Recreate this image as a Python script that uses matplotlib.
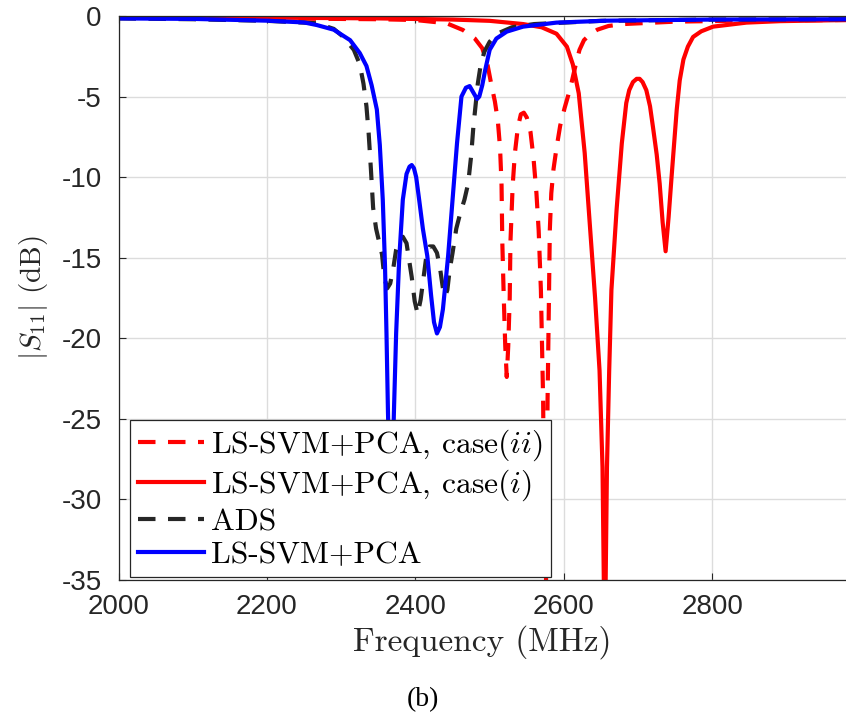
import matplotlib
matplotlib.use("Agg")
import matplotlib.pyplot as plt

# ---------------- data ----------------
freq_ii = [2000, 2200, 2350, 2400, 2442, 2464, 2480, 2490, 2497, 2502, 2507, 2511, 2514,
           2516, 2517, 2519, 2521, 2523, 2525, 2527, 2528, 2531, 2534, 2538, 2542, 2546,
           2550, 2555, 2559, 2563, 2566, 2569, 2572, 2575, 2578, 2580, 2581, 2583, 2586,
           2590, 2595, 2601, 2606, 2611, 2616, 2621, 2627, 2636, 2645, 2660, 2680, 2750,
           2850, 2980]
s11_ii = [-0.1, -0.15, -0.2, -0.25, -0.45, -0.87, -1.4, -2.0, -3.0, -4.2, -5.3, -6.5, -8.2,
          -10.5, -14.0, -17.5, -20.5, -22.4, -20.5, -17.5, -14.0, -10.5, -8.5, -6.9, -6.1, -6.0,
          -6.3, -7.2, -8.8, -11.0, -13.3, -17.0, -23.8, -40.0, -23.8, -17.0, -13.3, -11.0, -9.5,
          -8.2, -6.8, -5.7, -4.9, -4.0, -3.0, -2.1, -1.5, -1.1, -0.85, -0.62, -0.5, -0.35,
          -0.28, -0.25]

freq_i = [2000, 2200, 2350, 2450, 2500, 2545, 2570, 2590, 2604, 2612, 2620, 2628, 2635,
          2642, 2648, 2652, 2655, 2658, 2661, 2664, 2671, 2678, 2684, 2688, 2693, 2698,
          2702, 2706, 2711, 2716, 2720, 2725, 2729, 2733, 2737, 2741, 2745, 2749, 2752,
          2756, 2761, 2767, 2774, 2785, 2801, 2846, 2891, 2980]
s11_i = [-0.08, -0.1, -0.15, -0.22, -0.3, -0.5, -0.7, -1.1, -1.9, -3.0, -4.8, -8.5, -13.0,
         -17.5, -22.0, -28.0, -40.0, -28.0, -22.0, -17.0, -12.0, -7.9, -5.4, -4.6, -4.1, -3.9,
         -3.9, -4.1, -4.6, -5.6, -6.9, -8.6, -10.4, -12.8, -14.6, -12.5, -10.0, -7.6, -5.8,
         -4.0, -2.7, -1.9, -1.3, -0.95, -0.66, -0.41, -0.32, -0.25]

freq_ads = [2000, 2100, 2200, 2267, 2290, 2303, 2317, 2325, 2330, 2334, 2337, 2340, 2343,
            2347, 2351, 2355, 2358, 2362, 2366, 2370, 2374, 2379, 2383, 2388, 2392, 2395,
            2399, 2403, 2407, 2411, 2415, 2419, 2424, 2429, 2433, 2437, 2440, 2443, 2446,
            2450, 2455, 2460, 2466, 2471, 2475, 2478, 2484, 2488, 2493, 2500, 2510, 2530,
            2560, 2650, 2800, 2980]
s11_ads = [-0.15, -0.2, -0.3, -0.45, -0.8, -1.3, -2.1, -3.0, -4.2, -5.6, -7.3, -9.5, -11.9,
           -13.2, -14.0, -14.8, -16.2, -16.9, -16.6, -15.7, -14.5, -13.8, -13.7, -14.1, -15.3, -16.2,
           -17.7, -18.5, -17.6, -16.2, -14.8, -14.3, -14.3, -14.7, -15.6, -16.9, -17.4, -17.0, -15.8,
           -14.7, -13.2, -12.3, -11.4, -10.4, -8.7, -6.9, -4.2, -3.0, -2.2, -1.6, -1.1, -0.7,
           -0.5, -0.3, -0.22, -0.2]

freq_pca = [2000, 2100, 2200, 2250, 2267, 2290, 2312, 2325, 2334, 2341, 2348, 2352, 2356,
            2359, 2361, 2363, 2367, 2371, 2374, 2378, 2383, 2388, 2392, 2395, 2398, 2401,
            2405, 2410, 2416, 2421, 2425, 2429, 2433, 2437, 2440, 2444, 2450, 2456, 2462,
            2468, 2473, 2478, 2483, 2486, 2490, 2494, 2500, 2509, 2523, 2545, 2590, 2658,
            2800, 2980]
s11_pca = [-0.15, -0.18, -0.29, -0.4, -0.56, -0.85, -1.5, -2.3, -3.1, -4.3, -5.8, -8.0, -11.4,
           -15.5, -19.7, -24.6, -32.0, -24.6, -19.7, -15.2, -11.4, -9.8, -9.35, -9.25, -9.45, -10.0,
           -11.4, -13.2, -14.9, -17.3, -19.0, -19.7, -19.3, -18.2, -16.8, -14.9, -11.4, -7.9, -5.0,
           -4.45, -4.35, -4.75, -5.15, -5.0, -4.3, -3.35, -2.1, -1.4, -0.97, -0.66, -0.41, -0.29,
           -0.22, -0.2]

labels = [r"LS-SVM+PCA, case($ii$)", r"LS-SVM+PCA, case($i$)", "ADS", "LS-SVM+PCA"]
xticks = [2000, 2200, 2400, 2600, 2800]
yticks = [0, -5, -10, -15, -20, -25, -30, -35]

# ---------------- figure ----------------
plt.rcParams["mathtext.fontset"] = "cm"
plt.rcParams["axes.unicode_minus"] = False

fig = plt.figure(figsize=(8.46, 7.24), dpi=100)
ax = fig.add_axes([118.5 / 846, 144 / 724, 1 - 118.5 / 846, (580 - 16) / 724])

dash = (0, (4.2, 3.0))
lw = 3.0
ax.plot(freq_ii, s11_ii, color="#ff0000", lw=lw, ls=dash, label=labels[0])
ax.plot(freq_i, s11_i, color="#ff0000", lw=lw, ls="-", label=labels[1])
ax.plot(freq_ads, s11_ads, color="#262626", lw=lw, ls=dash, label=labels[2])
ax.plot(freq_pca, s11_pca, color="#0000ff", lw=lw, ls="-", label=labels[3])

ax.set_xlim(2000, 2980)
ax.set_ylim(-35, 0)
ax.set_xticks(xticks)
ax.set_yticks(yticks)
ax.set_xticklabels([str(v) for v in xticks])
ax.set_yticklabels([str(v) for v in yticks])
ax.grid(True, color="#dcdcdc", lw=1.0)
ax.set_axisbelow(True)
ax.tick_params(direction="in", length=5, width=0.8, color="#262626",
               labelsize=20, labelcolor="#262626", top=True)
ax.tick_params(axis="y", pad=12)
ax.tick_params(axis="x", pad=10)
for lab in ax.get_xticklabels() + ax.get_yticklabels():
    lab.set_fontfamily("Liberation Sans")
for side in ["left", "top", "bottom"]:
    ax.spines[side].set_color("#262626")
    ax.spines[side].set_linewidth(0.9)
ax.spines["right"].set_visible(False)

ax.set_xlabel("Frequency (MHz)", fontfamily="cmr10", fontsize=24, color="#262626", labelpad=4)
ax.set_ylabel(r"$|S_{11}|$ (dB)", fontfamily="cmr10", fontsize=21, color="#262626", labelpad=8)

leg = ax.legend(loc="lower left", bbox_to_anchor=(0.0158, 0.0053), borderaxespad=0,
                prop={"family": "cmr10", "size": 22.8}, frameon=True, fancybox=False,
                framealpha=1, edgecolor="#262626", handlelength=2.1, handletextpad=0.2,
                labelspacing=0.15, borderpad=0.25)
leg.get_frame().set_linewidth(0.9)

fig.text(423 / 846, 1 - 700 / 724, "(b)", fontfamily="Liberation Serif", fontsize=20,
         ha="center", va="center")

fig.savefig("out.png", dpi=100)
